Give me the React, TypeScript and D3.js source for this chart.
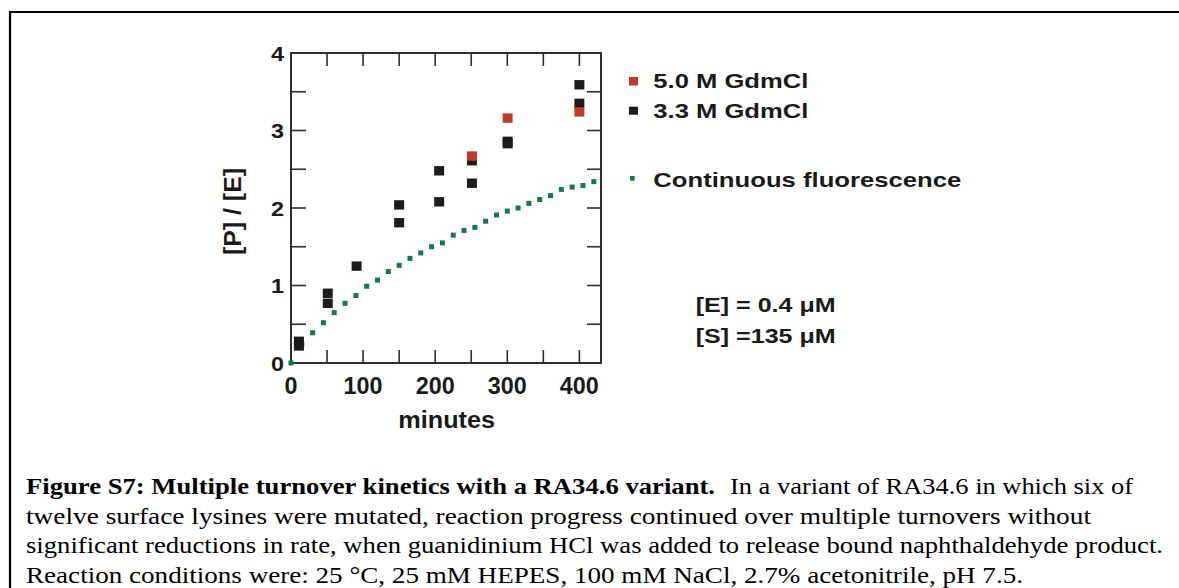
import React from "react";
import * as d3 from "d3";

// ---- data ----
const gdm33Minutes = [11, 11, 51, 51, 91, 150, 150, 205.5, 205.5, 251, 251, 300.5, 300.5, 400, 400];
const gdm33Values = [0.28, 0.22, 0.9, 0.77, 1.25, 2.04, 1.81, 2.48, 2.08, 2.61, 2.32, 2.86, 2.83, 3.59, 3.35];

const gdm50Minutes = [251, 300.5, 400];
const gdm50Values = [2.67, 3.16, 3.24];

const fluorMinutes = [0, 15, 30, 45, 60, 75, 90, 105, 120, 135, 150, 165, 180, 195, 210, 225, 240, 255, 270, 285, 300, 315, 330, 345, 360, 375, 390, 405, 420];
const fluorValues = [0, 0.24, 0.39, 0.52, 0.65, 0.77, 0.87, 0.99, 1.07, 1.18, 1.26, 1.35, 1.42, 1.5, 1.55, 1.65, 1.71, 1.75, 1.83, 1.91, 1.96, 2.0, 2.06, 2.11, 2.16, 2.24, 2.27, 2.29, 2.34];

const xTickLabels = [0, 100, 200, 300, 400];
const xMinorTicks = [50, 100, 150, 200, 250, 300, 350, 400];
const yTickLabels = [0, 1, 2, 3, 4];
const yMinorTicks = [0.5, 1, 1.5, 2, 2.5, 3, 3.5];

const legendLabels = ["5.0 M GdmCl", "3.3 M GdmCl", "Continuous fluorescence"];
const conditionLabels = ["[E] = 0.4 μM", "[S] =135 μM"];

const captionBold = "Figure S7: Multiple turnover kinetics with a RA34.6 variant.";
const captionLines = [
  "In a variant of RA34.6 in which six of",
  "twelve surface lysines were mutated, reaction progress continued over multiple turnovers without",
  "significant reductions in rate, when guanidinium HCl was added to release bound naphthaldehyde product.",
  "Reaction conditions were: 25 °C, 25 mM HEPES, 100 mM NaCl, 2.7% acetonitrile, pH 7.5.",
];

const RED = "#c2382b";
const BLACK = "#1c1c1c";
const GREEN = "#137a43";
const AXIS = "#2e2e2e";
const SANS = "'Liberation Sans', Arial, Helvetica, sans-serif";
const SERIF = "'Liberation Serif', 'Times New Roman', serif";

export default function App() {
  const W = 1179;
  const H = 588;
  const plot = { left: 291, right: 601, top: 53, bottom: 363 };
  const x = d3.scaleLinear().domain([0, 430]).range([plot.left, plot.right]);
  const y = d3.scaleLinear().domain([0, 4]).range([plot.bottom, plot.top]);

  const big = 10;
  const small = 5;

  const captionEnds = [1133, 1091, 1163, 1023];

  return (
    <svg
      width={W}
      height={H}
      viewBox={`0 0 ${W} ${H}`}
      style={{ position: "absolute", left: 0, top: 0, background: "#fff" }}
    >
      <rect x={0} y={0} width={W} height={H} fill="#fff" />
      {/* outer frame */}
      <path d={`M10,${H} L10,12 L${W},12`} fill="none" stroke="#000" strokeWidth={2.2} />

      {/* ticks */}
      <g stroke={AXIS} strokeWidth={1.6}>
        {xMinorTicks.map((t) => (
          <g key={"xt" + t}>
            <line x1={x(t)} x2={x(t)} y1={plot.bottom} y2={plot.bottom - 13} />
            <line x1={x(t)} x2={x(t)} y1={plot.top} y2={plot.top + 13} />
          </g>
        ))}
        {yMinorTicks.map((t) => (
          <g key={"yt" + t}>
            <line x1={plot.left} x2={plot.left + 15} y1={y(t)} y2={y(t)} />
            <line x1={plot.right} x2={plot.right - 14} y1={y(t)} y2={y(t)} />
          </g>
        ))}
      </g>
      {/* frame of plot */}
      <rect
        x={plot.left}
        y={plot.top}
        width={plot.right - plot.left}
        height={plot.bottom - plot.top}
        fill="none"
        stroke={AXIS}
        strokeWidth={2}
      />

      {/* tick labels */}
      <g fontFamily={SANS} fontWeight="bold" fill="#1a1a1a">
        {xTickLabels.map((t) => {
          const s = String(t);
          return (
            <text
              key={"xl" + t}
              x={x(t)}
              y={393.5}
              fontSize={24}
              textAnchor="middle"
              textLength={s.length * 13}
              lengthAdjust="spacingAndGlyphs"
            >
              {s}
            </text>
          );
        })}
        {yTickLabels.map((t) => {
          const s = String(t);
          return (
            <text
              key={"yl" + t}
              x={284}
              y={y(t) + 7.5}
              fontSize={21}
              textAnchor="end"
              textLength={s.length * 13}
              lengthAdjust="spacingAndGlyphs"
            >
              {s}
            </text>
          );
        })}
        <text
          x={446.7}
          y={428}
          fontSize={23}
          textAnchor="middle"
          textLength={96.7}
          lengthAdjust="spacingAndGlyphs"
        >
          minutes
        </text>
        <text
          transform={`translate(241,211.5) rotate(-90)`}
          fontSize={23}
          textAnchor="middle"
          textLength={87}
          lengthAdjust="spacingAndGlyphs"
        >
          [P] / [E]
        </text>
      </g>

      {/* fluorescence dots */}
      <g fill={GREEN}>
        {fluorMinutes.map((m, i) => (
          <rect
            key={"f" + i}
            x={x(m) - small / 2}
            y={y(fluorValues[i]) - small / 2}
            width={small}
            height={small}
          />
        ))}
      </g>
      {/* 3.3 M */}
      <g fill={BLACK}>
        {gdm33Minutes.map((m, i) => (
          <rect
            key={"b" + i}
            x={x(m) - big / 2}
            y={y(gdm33Values[i]) - 4.7}
            width={big}
            height={9.4}
          />
        ))}
      </g>
      {/* 5.0 M */}
      <g fill={RED}>
        {gdm50Minutes.map((m, i) => (
          <rect
            key={"r" + i}
            x={x(m) - big / 2}
            y={y(gdm50Values[i]) - 4.7}
            width={big}
            height={9.4}
          />
        ))}
      </g>

      {/* legend */}
      <g fontFamily={SANS} fontWeight="bold" fill="#1a1a1a" fontSize={21}>
        <rect x={629} y={77} width={9} height={8.5} fill={RED} />
        <rect x={629} y={106.7} width={9} height={8} fill={BLACK} />
        <rect x={630} y={176} width={4.7} height={4.7} fill={GREEN} />
        <text x={653.3} y={88} textLength={155} lengthAdjust="spacingAndGlyphs">
          {legendLabels[0]}
        </text>
        <text x={653.3} y={118} textLength={155} lengthAdjust="spacingAndGlyphs">
          {legendLabels[1]}
        </text>
        <text x={653.3} y={187} textLength={308} lengthAdjust="spacingAndGlyphs">
          {legendLabels[2]}
        </text>
        <text x={695.7} y={312} textLength={140} lengthAdjust="spacingAndGlyphs">
          {conditionLabels[0]}
        </text>
        <text x={695.7} y={342.5} textLength={140} lengthAdjust="spacingAndGlyphs">
          {conditionLabels[1]}
        </text>
      </g>

      {/* caption */}
      <g fontFamily={SERIF} fontSize={24} fill="#000">
        <text x={26} y={494} fontWeight="bold" textLength={689} lengthAdjust="spacingAndGlyphs">
          {captionBold}
        </text>
        <text x={730} y={494} textLength={captionEnds[0] - 730} lengthAdjust="spacingAndGlyphs">
          {captionLines[0]}
        </text>
        {captionLines.slice(1).map((line, i) => (
          <text
            key={"c" + i}
            x={26}
            y={523.5 + i * 29.5}
            textLength={captionEnds[i + 1] - 26}
            lengthAdjust="spacingAndGlyphs"
          >
            {line}
          </text>
        ))}
      </g>
    </svg>
  );
}
